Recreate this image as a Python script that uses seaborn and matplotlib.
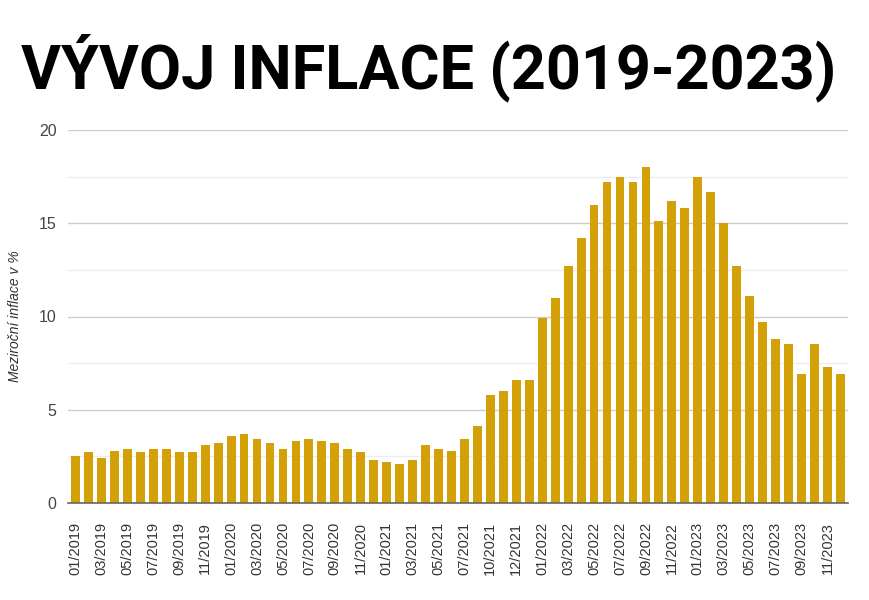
import numpy as np
import pandas as pd
import matplotlib
matplotlib.use("Agg")
import matplotlib.pyplot as plt
import seaborn as sns

# Meziroční inflace v % (měsíční data, 09/2021 chybí, 12/2021 dvakrát)
months = [
    "01/2019", "02/2019", "03/2019", "04/2019", "05/2019", "06/2019",
    "07/2019", "08/2019", "09/2019", "10/2019", "11/2019", "12/2019",
    "01/2020", "02/2020", "03/2020", "04/2020", "05/2020", "06/2020",
    "07/2020", "08/2020", "09/2020", "10/2020", "11/2020", "12/2020",
    "01/2021", "02/2021", "03/2021", "04/2021", "05/2021", "06/2021",
    "07/2021", "08/2021", "10/2021", "11/2021", "12/2021", "12/2021",
    "01/2022", "02/2022", "03/2022", "04/2022", "05/2022", "06/2022",
    "07/2022", "08/2022", "09/2022", "10/2022", "11/2022", "12/2022",
    "01/2023", "02/2023", "03/2023", "04/2023", "05/2023", "06/2023",
    "07/2023", "08/2023", "09/2023", "10/2023", "11/2023", "12/2023",
]
inflation = [
    2.5, 2.7, 2.4, 2.8, 2.9, 2.7, 2.9, 2.9, 2.7, 2.7, 3.1, 3.2,
    3.6, 3.7, 3.4, 3.2, 2.9, 3.3, 3.4, 3.3, 3.2, 2.9, 2.7, 2.3,
    2.2, 2.1, 2.3, 3.1, 2.9, 2.8, 3.4, 4.1, 5.8, 6.0, 6.6, 6.6,
    9.9, 11.0, 12.7, 14.2, 16.0, 17.2, 17.5, 17.2, 18.0, 15.1, 16.2, 15.8,
    17.5, 16.7, 15.0, 12.7, 11.1, 9.7, 8.8, 8.5, 6.9, 8.5, 7.3, 6.9,
]

df = pd.DataFrame({"idx": np.arange(len(months)), "month": months, "value": inflation})

sns.set_theme(style="white")
plt.rcParams["font.family"] = ["Liberation Sans", "DejaVu Sans"]

fig = plt.figure(figsize=(8.69, 6.0), dpi=100)
ax = fig.add_axes([0.078, 0.162, 0.898, 0.621])

sns.barplot(data=df, x="idx", y="value", ax=ax, color="#d4a008",
            width=0.68, saturation=1, edgecolor="none")

ax.set_ylim(0, 20)
ax.set_yticks([0, 5, 10, 15, 20])
ax.set_yticks([2.5, 7.5, 12.5, 17.5], minor=True)
ax.grid(axis="y", which="major", color="#cccccc", linewidth=1)
ax.grid(axis="y", which="minor", color="#ececec", linewidth=1)
ax.set_axisbelow(True)
ax.tick_params(axis="y", which="both", length=0, labelsize=11.5, labelcolor="#444444", pad=8)

ax.set_xlim(-0.6, len(months) - 0.4)
ax.set_xticks(df["idx"][::2])
ax.set_xticklabels(df["month"][::2], rotation=90, fontsize=10.5, color="#333333")
ax.tick_params(axis="x", length=0, pad=14)

for s in ["top", "right", "left"]:
    ax.spines[s].set_visible(False)
ax.spines["bottom"].set_color("#666666")
ax.spines["bottom"].set_linewidth(1.2)

ax.set_xlabel("")
ax.set_ylabel("Meziroční inflace v %", fontsize=10, style="italic", color="#333333", labelpad=12)

fig.text(0.493, 0.887, "VÝVOJ INFLACE (2019-2023)", ha="center", va="center",
         fontsize=44, fontweight="bold", color="black",
         family=["Roboto", "DejaVu Sans"])

fig.savefig("out.png", dpi=100)
